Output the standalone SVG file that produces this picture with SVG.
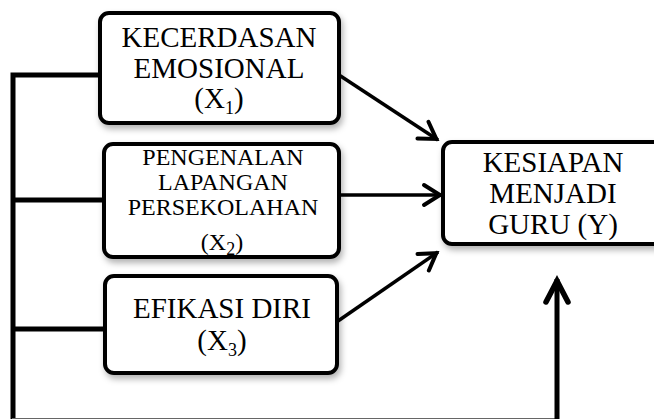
<svg xmlns="http://www.w3.org/2000/svg" width="654" height="419" viewBox="0 0 654 419">
<style>
.box{fill:#fff;stroke:#000;stroke-width:4;filter:url(#sh)}
.t{font-family:"Liberation Serif","Times New Roman",serif;fill:#000;text-anchor:middle}
.big{font-size:29px}
.mid{font-size:24px}
.sub{font-size:18px}
.ln{stroke:#000;fill:none}
</style>
<defs>
<filter id="sh" x="-10%" y="-10%" width="130%" height="140%">
<feDropShadow dx="2" dy="4" stdDeviation="3" flood-color="#000" flood-opacity="0.3"/>
</filter>
<marker id="ah" markerUnits="userSpaceOnUse" viewBox="-24 -14 28 28" markerWidth="28" markerHeight="28" refX="0" refY="0" orient="auto">
<path d="M-18,-10 L-2,0 L-18,10" fill="none" stroke="#000" stroke-width="4" stroke-linecap="round"/>
</marker>
<marker id="ah2" markerUnits="userSpaceOnUse" viewBox="-30 -16 34 32" markerWidth="34" markerHeight="32" refX="0" refY="0" orient="auto">
<path d="M-23,-11 L-2,0 L-23,11" fill="none" stroke="#000" stroke-width="5.5" stroke-linecap="round"/>
</marker>
</defs>
<g id="connectors">
<path class="ln" stroke-width="5" d="M100,75 H13 V419"/>
<path class="ln" stroke-width="5" d="M13,200 H104"/>
<path class="ln" stroke-width="5" d="M13,329 H105"/>
<line x1="12" y1="418.5" x2="559" y2="418.5" stroke="#666" stroke-width="1"/>
<line class="ln" x1="557" y1="419" x2="557" y2="279" stroke-width="5" marker-end="url(#ah2)"/>
<line class="ln" x1="339" y1="75" x2="438" y2="140" stroke-width="3.5" marker-end="url(#ah)"/>
<line class="ln" x1="339" y1="195" x2="442" y2="195" stroke-width="3.5" marker-end="url(#ah)"/>
<line class="ln" x1="338" y1="321" x2="438" y2="252" stroke-width="3.5" marker-end="url(#ah)"/>
</g>
<g id="x1">
<rect class="box" x="100" y="13" width="239" height="110" rx="9"/>
<text class="t big" x="219" y="47">KECERDASAN</text>
<text class="t big" x="219" y="78">EMOSIONAL</text>
<text class="t big" x="219" y="108">(X<tspan class="sub" dy="6">1</tspan><tspan dy="-6">)</tspan></text>
</g>
<g id="x2">
<rect class="box" x="104" y="144" width="235" height="113" rx="9"/>
<text class="t mid" x="223" y="165">PENGENALAN</text>
<text class="t mid" x="223" y="190">LAPANGAN</text>
<text class="t mid" x="223" y="215">PERSEKOLAHAN</text>
<text class="t mid" x="222" y="250">(X<tspan class="sub" dy="5">2</tspan><tspan dy="-5">)</tspan></text>
</g>
<g id="x3">
<rect class="box" x="105" y="276" width="232" height="97" rx="9"/>
<text class="t big" x="222" y="318">EFIKASI DIRI</text>
<text class="t big" x="222" y="350">(X<tspan class="sub" dy="6">3</tspan><tspan dy="-6">)</tspan></text>
</g>
<g id="y">
<rect class="box" x="443" y="142" width="222" height="102" rx="9"/>
<text class="t big" x="553" y="172">KESIAPAN</text>
<text class="t big" x="553" y="203">MENJADI</text>
<text class="t big" x="553" y="234">GURU (Y)</text>
</g>
</svg>
